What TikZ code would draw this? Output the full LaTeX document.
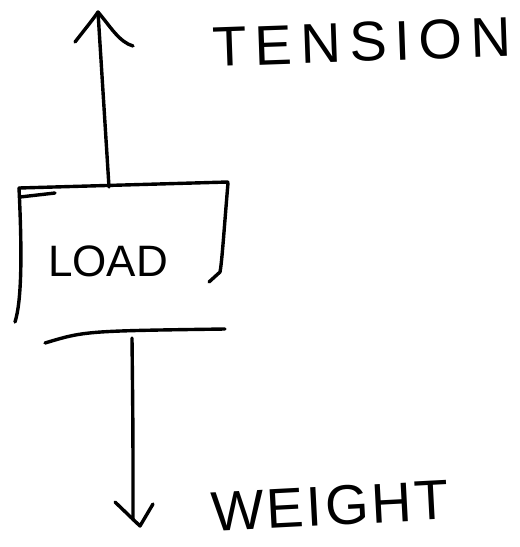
\documentclass[tikz,border=0pt]{standalone}
\usepackage{fontspec}
\setmainfont{Liberation Sans}
\begin{document}
\begin{tikzpicture}[x=1pt, y=-1pt,
  pen/.style={line width=3.4pt, line cap=round, line join=round},
  word/.style={inner sep=0pt, anchor=center},
  big/.style={font=\fontsize{56}{60}\selectfont\addfontfeature{LetterSpace=15}},
  mid/.style={font=\fontsize{56}{60}\selectfont\addfontfeature{LetterSpace=5}},
  small/.style={font=\fontsize{44}{48}\selectfont}]
\useasboundingbox (0,0) rectangle (520,547);

% key points of the force diagram
\coordinate (tensiontip) at (98,12);
\coordinate (boxtop) at (109,187);
\coordinate (boxbottom) at (132,338);
\coordinate (weighttip) at (140,526);

% the load block (hand-sketched outline)
\draw[pen] (19,188) -- (228,182);
\draw[pen] (20,197) -- (55,193);
\draw[pen] (19,188) .. controls (22,250) and (22,300) .. (15,322);
\draw[pen] (228,183) .. controls (224,230) and (222,262) .. (220,272) -- (209,282);
\draw[pen] (45,343) .. controls (85,331) .. (225,329);

% tension arrow
\draw[pen] (boxtop) .. controls (104,100) .. (tensiontip);
\draw[pen] (75,42) .. controls (86,28) and (94,18) .. (tensiontip);
\draw[pen] (tensiontip) .. controls (110,26) and (119,42) .. (133,46);

% weight arrow
\draw[pen] (boxbottom) .. controls (133,430) .. (133,520);
\draw[pen] (115,502) -- (weighttip) -- (153,504);

% labels
\node[word, small] (load) at (108,261) {LOAD};
\node[word, big, rotate=2] (tension) at (362,42) {TENSION};
\node[word, mid, rotate=3] (weight) at (330,506) {WEIGHT};
\end{tikzpicture}
\end{document}
